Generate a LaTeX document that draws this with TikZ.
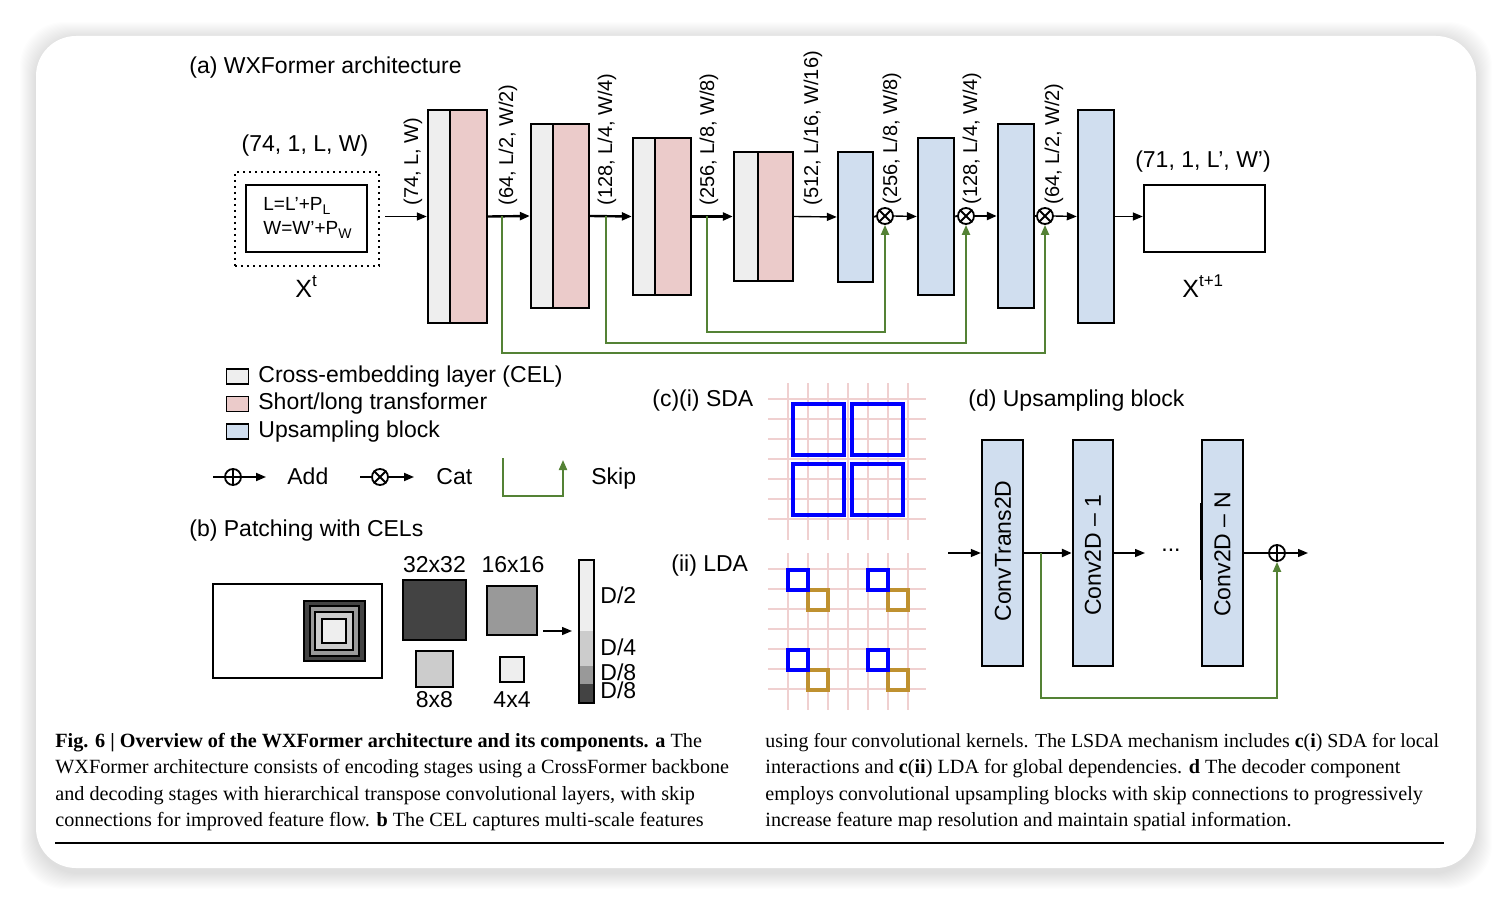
\documentclass[tikz,border=0pt]{standalone}
\usepackage{fontspec}
\setmainfont{Liberation Sans}
\newfontfamily\capfont{Liberation Serif}
\usetikzlibrary{arrows.meta,fit,calc}

\definecolor{celgray}{HTML}{EEEEEE}
\definecolor{slpink}{HTML}{EBCBCA}
\definecolor{upblue}{HTML}{D0DEEF}
\definecolor{skipgreen}{HTML}{548235}
\definecolor{gridpink}{HTML}{F0D0D0}
\definecolor{goldsq}{HTML}{BF9130}
\definecolor{sqblue}{HTML}{0000FF}
\definecolor{dkg}{HTML}{434343}
\definecolor{mdg}{HTML}{999999}
\definecolor{ltg}{HTML}{CCCCCC}

\tikzset{
 blk/.style={draw=black, line width=1.2pt, inner sep=0pt},
 celb/.style={blk, fill=celgray},
 slb/.style={blk, fill=slpink},
 upb/.style={blk, fill=upblue},
 bigtxt/.style={font=\fontsize{11.5}{13.8}\selectfont, inner sep=0pt},
 dimlab/.style={font=\fontsize{10}{12}\selectfont, rotate=90, anchor=west, inner sep=0pt},
 thickarr/.style={line width=1.2pt, -{Triangle[length=5pt,width=4pt]}},
 thinarr/.style={line width=0.7pt, -{Triangle[length=5pt,width=4pt]}},
 skiparr/.style={draw=skipgreen, line width=1pt, -{Triangle[length=5pt,width=4pt]}},
 opsym/.style={circle, draw, line width=0.9pt, minimum size=8pt, inner sep=0pt},
 legsq/.style={draw, line width=0.9pt, minimum width=11pt, minimum height=7.5pt, inner sep=0pt},
 gridln/.style={draw=gridpink, line width=1pt},
 patch/.style={draw, line width=0.9pt},
 captxt/.style={font=\capfont\fontsize{10.1}{13}\selectfont, inner sep=0pt, anchor=base west},
}
\newcommand{\mkcross}[1]{\draw[line width=0.9pt] (#1.north east) -- (#1.south west) (#1.north west) -- (#1.south east);}
\newcommand{\mkplus}[1]{\draw[line width=0.9pt] (#1.north) -- (#1.south) (#1.west) -- (#1.east);}

\begin{document}
\begin{tikzpicture}[x=0.5pt,y=-0.5pt]
\useasboundingbox (0,0) rectangle (1512,904);
% card shadow
\foreach \i in {1,...,16}{
  \fill[black, opacity=0.008, rounded corners=22pt] (36-\i,38-\i) rectangle (1476+\i,873+\i);
}
\fill[white, rounded corners=20pt] (36,36) rectangle (1476,868);

% ================= (a) =================
\node[bigtxt, anchor=base west] (ta) at (189,74) {(a) WXFormer architecture};
\node[bigtxt, anchor=base] (inshape) at (305,152) {(74, 1, L, W)};
\node[draw, dotted, line width=1pt, inner sep=0pt, fit={(235,172)(379,266)}] (xin) {};
\node[draw, line width=1pt, inner sep=0pt, fit={(246,185)(367,252)}] (xinner) {};
\node[font=\fontsize{9.5}{12}\selectfont, align=left, anchor=west, inner sep=0pt] (xeq) at (263,218)
  {L=L’+P\raisebox{-0.45ex}{\fontsize{7}{8}\selectfont L}\\W=W’+P\raisebox{-0.45ex}{\fontsize{7}{8}\selectfont W}};
\node[font=\fontsize{12.5}{14}\selectfont, anchor=base west, inner sep=0pt] (xt) at (295,298) {X\raisebox{0.85ex}{\fontsize{8.5}{9}\selectfont t}};

% encoder blocks
\node[celb, fit={(428,110)(450,323)}] (e1c) {};
\node[slb,  fit={(450,110)(487,323)}] (e1s) {};
\node[celb, fit={(531,124)(553,308)}] (e2c) {};
\node[slb,  fit={(553,124)(589,308)}] (e2s) {};
\node[celb, fit={(633,138)(655,295)}] (e3c) {};
\node[slb,  fit={(655,138)(691,295)}] (e3s) {};
\node[celb, fit={(734,152)(758,281)}] (e4c) {};
\node[slb,  fit={(758,152)(793,281)}] (e4s) {};
% decoder blocks
\node[upb, fit={(838,152)(873,282)}] (u1) {};
\node[upb, fit={(918,138)(954,295)}] (u2) {};
\node[upb, fit={(998,124)(1034,308)}] (u3) {};
\node[upb, fit={(1078,110)(1114,323)}] (u4) {};
\node[draw, line width=1.2pt, inner sep=0pt, fit={(1144,185)(1265,252)}] (out) {};

\node[opsym] (c1) at (885,216) {};
\node[opsym] (c2) at (966,216) {};
\node[opsym] (c3) at (1045,216) {};
\mkcross{c1}\mkcross{c2}\mkcross{c3}

% dimension labels
\node[dimlab] (d1) at (413,206) {(74, L, W)};
\node[dimlab] (d2) at (508,206) {(64, L/2, W/2)};
\node[dimlab] (d3) at (607,206) {(128, L/4, W/4)};
\node[dimlab] (d4) at (709,206) {(256, L/8, W/8)};
\node[dimlab] (d5) at (813,206) {(512, L/16, W/16)};
\node[dimlab] (d6) at (892,205) {(256, L/8, W/8)};
\node[dimlab] (d7) at (972,205) {(128, L/4, W/4)};
\node[dimlab] (d8) at (1054,205) {(64, L/2, W/2)};

\node[bigtxt, anchor=base] (outshape) at (1203,168) {(71, 1, L’, W’)};
\node[font=\fontsize{12.5}{14}\selectfont, anchor=base west, inner sep=0pt] (xt1) at (1182,298) {X\raisebox{0.85ex}{\fontsize{8.5}{9}\selectfont t+1}};

% main flow
\draw[thinarr, shorten <=2.5pt] (xin.east |- e1c.west) -- (e1c.west);
\draw[thickarr] (e1s.east) -- (e2c.west);
\draw[thickarr] (e2s.east) -- (e3c.west);
\draw[thickarr] (e3s.east) -- (e4c.west);
\draw[thinarr] (e4s.east) -- (u1.west);
\draw[line width=0.9pt] (u1.east) -- (c1.west);
\draw[thinarr] (c1.east) -- (u2.west);
\draw[line width=0.9pt] (u2.east) -- (c2.west);
\draw[thickarr] (c2.east) -- (u3.west);
\draw[line width=0.9pt] (u3.east) -- (c3.west);
\draw[thinarr] (c3.east) -- (u4.west);
\draw[thinarr] (u4.east) -- (u4.east -| out.west);

% skips
\coordinate (k1) at (502,216);
\coordinate (k2) at (606,216);
\coordinate (k3) at (707,216);
\draw[skiparr] (k1) -- ++(0,137) -| (c3.south);
\draw[skiparr] (k2) -- ++(0,127) -| (c2.south);
\draw[skiparr] (k3) -- ++(0,116) -| (c1.south);

% ================= legend =================
\node[legsq, fill=celgray] (lg1) at (237.5,376.5) {};
\node[legsq, fill=slpink]  (lg2) at (237.5,404) {};
\node[legsq, fill=upblue]  (lg3) at (237.5,431.5) {};
\node[bigtxt, anchor=base west] (lt1) at (258,382) {Cross-embedding layer (CEL)};
\node[bigtxt, anchor=base west] (lt2) at (258,409.5) {Short/long transformer};
\node[bigtxt, anchor=base west] (lt3) at (258,437) {Upsampling block};

\coordinate (la0) at (213,477);
\node[opsym] (ladd) at (233,477) {};
\mkplus{ladd}
\coordinate (la1) at (266,477);
\draw[line width=0.9pt] (la0) -- (ladd.west);
\draw[thinarr, line width=0.9pt] (ladd.east) -- (la1);
\node[bigtxt, anchor=base west] (ltadd) at (287,484.5) {Add};

\coordinate (lc0) at (360,477);
\node[opsym] (lcat) at (380,477) {};
\mkcross{lcat}
\coordinate (lc1) at (414,477);
\draw[line width=0.9pt] (lc0) -- (lcat.west);
\draw[thinarr, line width=0.9pt] (lcat.east) -- (lc1);
\node[bigtxt, anchor=base west] (ltcat) at (436,484.5) {Cat};

\coordinate (ls0) at (503,458);
\coordinate (ls1) at (563,460);
\draw[skiparr] (ls0) -- (503,496) -- (563,496) -- (ls1);
\node[bigtxt, anchor=base west] (ltskip) at (591,484.5) {Skip};

% ================= (b) =================
\node[bigtxt, anchor=base west] (tb) at (189,536) {(b) Patching with CELs};
\draw[patch] (213,584) rectangle (382,678);
\draw[patch, fill=dkg] (304,601) rectangle (365,661);
\draw[patch, fill=mdg] (310,606) rectangle (359,656);
\draw[patch, fill=ltg] (315,612) rectangle (353,650);
\draw[patch, fill=celgray] (322,619) rectangle (346,643);

\draw[patch, fill=dkg] (403,580) rectangle (466,640);
\draw[patch, fill=mdg] (487,586) rectangle (537,635);
\draw[patch, fill=ltg] (416,651) rectangle (453,687);
\draw[patch, fill=celgray] (500,657) rectangle (524,682);
\node[bigtxt, anchor=base] (p32) at (434.5,572.5) {32x32};
\node[bigtxt, anchor=base] (p16) at (513,572.5) {16x16};
\node[bigtxt, anchor=base] (p8) at (434.5,707) {8x8};
\node[bigtxt, anchor=base] (p4) at (512,707) {4x4};
\coordinate (pa0) at (543,631);
\coordinate (pa1) at (572,631);
\draw[thinarr] (pa0) -- (pa1);
\fill[celgray] (579,560) rectangle (594,631);
\fill[ltg] (579,631) rectangle (594,666);
\fill[mdg] (579,666) rectangle (594,684);
\fill[dkg] (579,684) rectangle (594,703);
\draw[line width=0.9pt] (579,560) rectangle (594,703);
\node[bigtxt, anchor=base west] (dd2) at (600,603) {D/2};
\node[bigtxt, anchor=base west] (dd4) at (600,655) {D/4};
\node[bigtxt, anchor=base west] (dd8a) at (600,680) {D/8};
\node[bigtxt, anchor=base west] (dd8b) at (600,698.5) {D/8};

% ================= (c) =================
\node[bigtxt, anchor=base west] (tc1) at (652,406.5) {(c)(i) SDA};
\node[bigtxt, anchor=base west] (tc2) at (671,571) {(ii) LDA};
\foreach \xx in {788,808,...,908}{
  \draw[gridln] (\xx,383) -- (\xx,540);
  \draw[gridln] (\xx,553) -- (\xx,710);
}
\foreach \yy in {399,419,...,519}{ \draw[gridln] (768,\yy) -- (926,\yy); }
\foreach \yy in {569,589,...,689}{ \draw[gridln] (768,\yy) -- (926,\yy); }
\foreach \xa/\ya in {793/404,852/404,793/464,852/464}{
  \draw[draw=sqblue, line width=2pt] (\xa,\ya) rectangle ++(51,51);
}
\foreach \xa/\ya in {788/570,868/570,788/650,868/650}{
  \draw[draw=goldsq, line width=1.8pt] (\xa+20,\ya+20) rectangle ++(20,20);
  \draw[draw=sqblue, line width=1.8pt] (\xa,\ya) rectangle ++(20,20);
}

% ================= (d) =================
\node[bigtxt, anchor=base west] (td) at (968,406) {(d) Upsampling block};
\node[upb, fit={(982,440)(1023,666)}] (ct) {};
\node[upb, fit={(1073,440)(1113,666)}] (cv1) {};
\node[upb, fit={(1202,440)(1243,666)}] (cvn) {};
\node[bigtxt, rotate=90] (lct) at (1003,551) {ConvTrans2D};
\node[bigtxt, rotate=90] (lcv1) at (1093,555) {Conv2D – 1};
\node[bigtxt, rotate=90] (lcvn) at (1222.5,554) {Conv2D – N};
\draw[line width=1.5pt] ([xshift=0.3pt,yshift=25pt]cvn.west) -- ([xshift=0.3pt,yshift=-13.5pt]cvn.west);
\coordinate (din) at (948,553);
\draw[thinarr] (din) -- (ct.west);
\draw[thickarr] (ct.east) -- (cv1.west);
\coordinate (dout1) at (1145,553);
\draw[thinarr] (cv1.east) -- (dout1);
\node[font=\fontsize{11.5}{13.8}\selectfont, anchor=base, inner sep=0pt] (ddots) at (1171,551) {...};
\node[opsym] (dadd) at (1277,553) {};
\mkplus{dadd}
\draw[line width=0.7pt] (cvn.east) -- (dadd.west);
\coordinate (dend) at (1308,553);
\draw[thinarr] (dadd.east) -- (dend);
\coordinate (dk) at (1041,553);
\draw[skiparr] (dk) -- ++(0,145) -| (dadd.south);

% ================= caption =================
\node[captxt] (cl1) at (55,747) {\textbf{Fig. 6 | Overview of the WXFormer architecture and its components. a} The};
\node[captxt] (cl2) at (55,773.5) {WXFormer architecture consists of encoding stages using a CrossFormer backbone};
\node[captxt] (cl3) at (55,800) {and decoding stages with hierarchical transpose convolutional layers, with skip};
\node[captxt] (cl4) at (55,826.5) {connections for improved feature flow. \textbf{b} The CEL captures multi-scale features};
\node[captxt] (cr1) at (765,747) {\fontsize{9.95}{13}\selectfont using four convolutional kernels. The LSDA mechanism includes \textbf{c}(\textbf{i}) SDA for local};
\node[captxt] (cr2) at (765,773.5) {interactions and \textbf{c}(\textbf{ii}) LDA for global dependencies. \textbf{d} The decoder component};
\node[captxt] (cr3) at (765,800) {employs convolutional upsampling blocks with skip connections to progressively};
\node[captxt] (cr4) at (765,826.5) {increase feature map resolution and maintain spatial information.};
\draw[line width=1pt] (55,843) -- (1444,843);
\end{tikzpicture}
\end{document}
